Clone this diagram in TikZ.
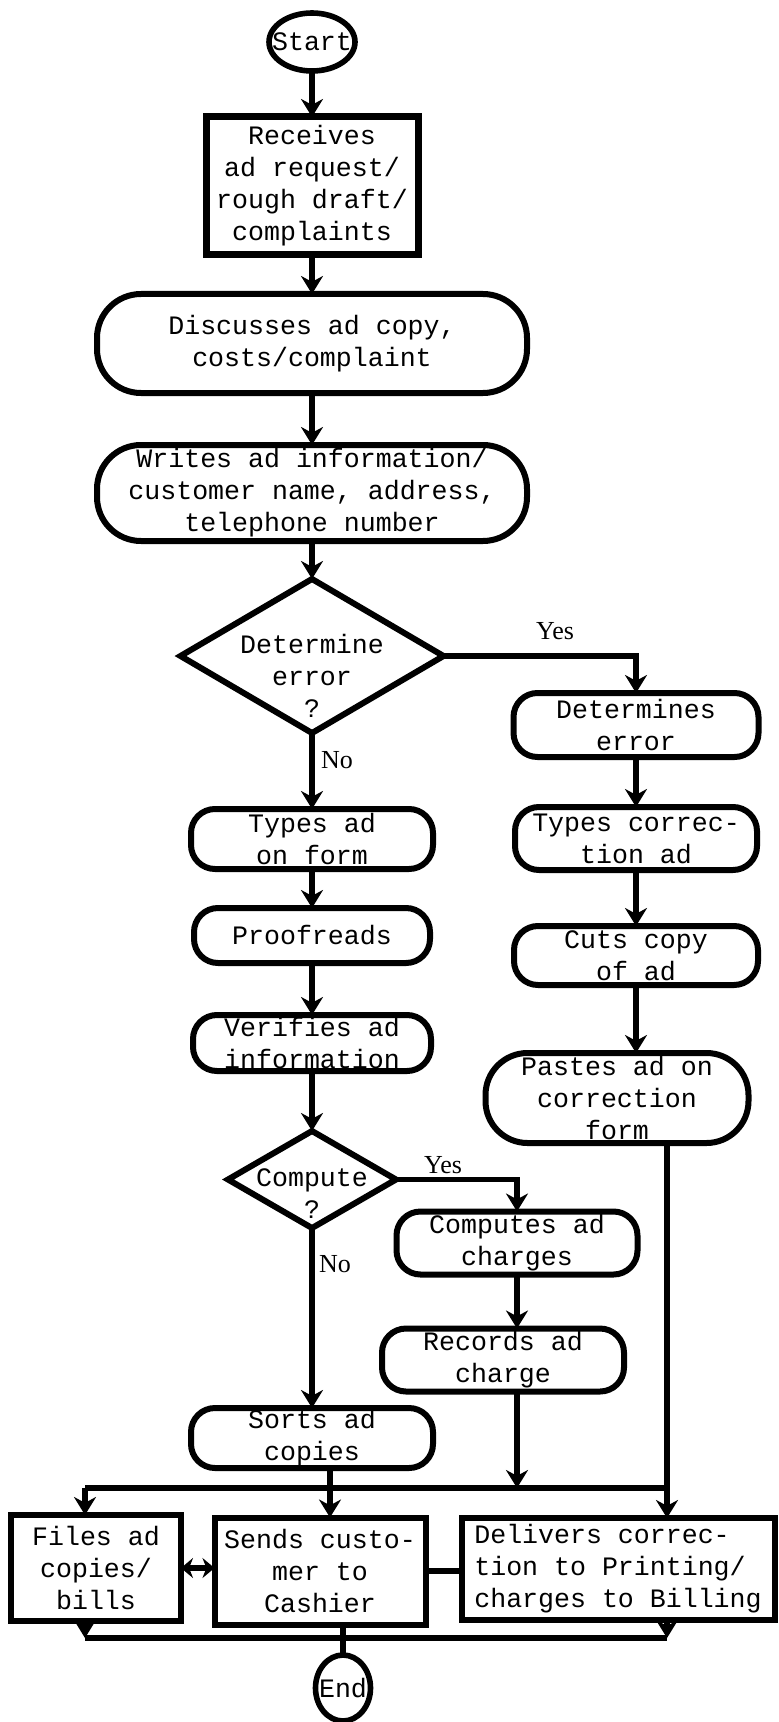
\documentclass[tikz,border=0pt]{standalone}
\usepackage{fontspec}
\setmonofont{Liberation Mono}
\newfontfamily\labelfont{Liberation Serif}
\usetikzlibrary{arrows.meta, positioning, shapes.geometric}

\begin{document}
\begin{tikzpicture}[x=0.5pt, y=-0.5pt, node distance=20pt,
    font=\ttfamily\fontsize{13.3pt}{16pt}\selectfont,
    >={Stealth[length=9pt, width=11pt]},
    termbox/.style={ellipse, draw, line width=2.8pt, inner ysep=0pt, outer sep=0pt},
    procbox/.style={rectangle, draw, line width=3pt, inner sep=0pt, outer sep=0pt, align=center},
    roundbox/.style={procbox, rounded corners=12pt, minimum width=121pt, minimum height=30pt},
    widebox/.style={procbox, rounded corners=22pt, minimum width=215pt},
    decbox/.style={diamond, draw, line width=3pt, inner sep=0pt, outer sep=0pt},
    lbl/.style={font=\labelfont\fontsize{13pt}{15pt}\selectfont},
    arr/.style={->, line width=2.8pt},
    dbl/.style={{Stealth[length=6pt, width=10pt]}-{Stealth[length=6pt, width=10pt]}, line width=2.8pt},
    wire/.style={line width=2.6pt}]
    \useasboundingbox (0,0) rectangle (778,1722);
    % Main column
    \node[termbox, inner xsep=-6pt, minimum width=43pt, minimum height=29pt] (start) at (312,42) {Start};
    \node[procbox, line width=3.5pt, minimum width=106pt, minimum height=69pt, below=23pt of start] (receives) {Receives\\ad request/\\rough draft/\\complaints};
    \node[widebox, minimum height=49.5pt, below=19.5pt of receives] (discuss) {Discusses ad copy,\\costs/complaint};
    \node[widebox, minimum height=48pt, below=26pt of discuss] (writes) {Writes ad information/\\customer name, address,\\telephone number};
    \node[decbox, minimum width=131.5pt, minimum height=77pt, below=19pt of writes] (errq) {};
    \node[yshift=-10pt, align=center] (errqtext) at (errq) {Determine\\error\\?};
    \node[roundbox, below=38pt of errq] (typead) {Types ad\\on form};
    \node[roundbox, minimum width=118pt, minimum height=27.5pt, below=19.5pt of typead] (proof) {Proofreads};
    \node[roundbox, minimum width=119pt, minimum height=28pt, below=26pt of proof] (verify) {Verifies ad\\information};
    \node[decbox, minimum width=84pt, minimum height=48.5pt, below=30pt of verify] (compq) {};
    \node[yshift=-7pt, align=center] (compqtext) at (compq) {Compute\\?};
    \node[roundbox, below=90pt of compq] (sorts) {Sorts ad\\copies};
    % Correction column
    \node[roundbox, minimum width=122.5pt, minimum height=32pt] (determ) at (636,725) {Determines\\error};
    \node[roundbox, minimum height=31.5pt, below=25pt of determ] (typecorr) {Types correc-\\tion ad};
    \node[roundbox, minimum width=122pt, minimum height=29.5pt, below=28pt of typecorr] (cuts) {Cuts copy\\of ad};
    \node[roundbox, rounded corners=21pt, minimum width=131.5pt, minimum height=45pt, below=34pt of cuts, xshift=-9.5pt] (pastes) {Pastes ad on\\correction\\form};
    % Charges column
    \node[roundbox, minimum width=120.5pt, minimum height=31.5pt] (computes) at (517,1243) {Computes ad\\charges};
    \node[roundbox, minimum height=31.5pt, below=27pt of computes, xshift=-7pt] (records) {Records ad\\charge};
    % Bottom row
    \node[procbox, minimum width=85pt, minimum height=53pt] (files) at (96,1568) {Files ad\\copies/\\bills};
    \node[procbox, minimum width=105.5pt, minimum height=53.5pt] (sends) at (320,1571) {Sends custo-\\mer to\\Cashier};
    \node[procbox, minimum width=156.5pt, minimum height=51pt, align=left] (delivers) at (618,1569) {Delivers correc-\\tion to Printing/\\charges to Billing};
    \node[termbox, inner xsep=-2.5pt, minimum width=27.5pt, minimum height=33pt] (stop) at (343,1688) {End};
    % Branch labels
    \node[lbl] (yes1) at (555,631) {Yes};
    \node[lbl] (no1) at (337,760) {No};
    \node[lbl] (yes2) at (443,1165) {Yes};
    \node[lbl] (no2) at (335,1264) {No};
    % Arrows
    \draw[arr] (start) -- (receives);
    \draw[arr] (receives) -- (discuss);
    \draw[arr] (discuss) -- (writes);
    \draw[arr] (writes) -- (errq);
    \draw[arr] (errq) -- (typead);
    \draw[arr] (typead) -- (proof);
    \draw[arr] (proof) -- (verify);
    \draw[arr] (verify) -- (compq);
    \draw[arr] (compq) -- (sorts);
    \draw[arr] (errq.east) -| (determ.north);
    \draw[arr] (determ) -- (typecorr);
    \draw[arr] (typecorr) -- (cuts);
    \draw[arr] (cuts.south) -- (cuts.south |- pastes.north);
    \draw[arr] (compq.east) -| (computes.north);
    \draw[arr] (computes.south) -- (computes.south |- records.north);
    % Collecting lines
    \coordinate (busL) at (85,1488);
    \coordinate (busR) at (667,1488);
    \draw[wire] (busL) -- (busR);
    \draw[arr] (pastes.south -| busR) -- (delivers.north -| busR);
    \draw[arr] (records.south -| computes) -- (computes |- busL);
    \draw[arr] (busL) -- (busL |- files.north);
    \draw[arr] ([xshift=5pt]sorts.south -| sends) -- ([xshift=5pt]sends.north);
    \draw[dbl] (files.east) -- (files.east -| sends.west);
    \draw[wire] (sends.east) -- (sends.east -| delivers.west);
    \coordinate (botL) at (85,1638);
    \coordinate (botR) at (667,1638);
    \draw[arr] (files.south -| botL) -- (botL);
    \draw[arr] (delivers.south -| botR) -- (botR);
    \draw[wire] (botL) -- (botR);
    \draw[wire] (stop |- sends.south) -- (stop);
  \end{tikzpicture}
\end{document}
